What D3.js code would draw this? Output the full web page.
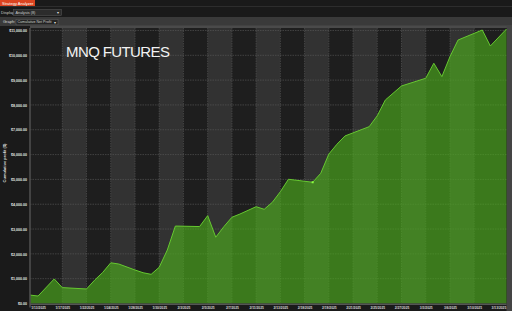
<!DOCTYPE html>
<html>
<head>
<meta charset="utf-8">
<script src="https://cdn.jsdelivr.net/npm/d3@7"></script>
<style>
  html, body { margin: 0; padding: 0; background: #1a1a1a; }
  svg { display: block; font-family: "Liberation Sans", Arial, sans-serif; }
</style>
</head>
<body>
<svg width="512" height="311"></svg>
<script>
'use strict';

// trade number of each vertex of the equity curve, and cumulative profit there
const trades = [0, 1, 3, 4, 7, 8, 9, 10, 11, 13, 14, 15, 16, 17, 18, 21, 22, 23, 24, 25, 26, 28, 29, 30,
    31, 32, 35, 36, 37, 38, 39, 42, 43, 44, 46, 49, 50, 51, 52, 53, 56, 57, 59];
const profit = [340, 300, 990, 640, 585, 940, 1250, 1640, 1590, 1350, 1240, 1175, 1460, 2155, 3120, 3100,
    3540, 2670, 3095, 3475, 3605, 3900, 3795, 4075, 4505, 5005, 4885, 5245, 6020, 6415, 6750, 7125, 7565,
    8200, 8765, 9075, 9680, 9140, 9945, 10615, 11020, 10375, 11060];
const selectedTrade = 35;

// date labels, one every third trade starting at trade 1
const tickTrades = [1, 4, 7, 10, 13, 16, 19, 22, 25, 28, 31, 34, 37, 40, 43, 46, 49, 52, 55, 58];
const tickLabels = ["1/13/2025", "1/17/2025", "1/22/2025", "1/24/2025", "1/28/2025", "1/30/2025",
    "2/3/2025", "2/5/2025", "2/7/2025", "2/11/2025", "2/13/2025", "2/18/2025", "2/19/2025", "2/21/2025",
    "2/25/2025", "2/27/2025", "3/3/2025", "3/6/2025", "3/10/2025", "3/13/2025"];
const yTicks = d3.range(0, 12000, 1000);

const run = () => {
    const svg = d3.select("svg");
    const left = 30, right = 506.5, top = 28, bottom = 303.5;

    const x = d3.scaleLinear().domain([0, 59]).range([left, right]);
    const y = d3.scaleLinear().domain([0, 11100]).range([bottom, top]);
    const data = trades.map((t, i) => ({ trade: t, value: profit[i] }));

    // header strip
    svg.append("rect").attr("width", 512).attr("height", 311).attr("fill", "#1a1a1a");
    svg.append("rect").attr("x", 0).attr("y", 0).attr("width", 35).attr("height", 6).attr("fill", "#dc4420");
    svg.append("text").attr("x", 2).attr("y", 4.6).attr("font-size", 4).attr("fill", "#fff")
        .text("Strategy Analyzer");
    svg.append("rect").attr("x", 0).attr("y", 6).attr("width", 512).attr("height", 0.8).attr("fill", "#333");

    svg.append("text").attr("x", 1).attr("y", 13.8).attr("font-size", 4).attr("fill", "#ccc").text("Display:");
    svg.append("rect").attr("x", 13.5).attr("y", 9.5).attr("width", 48).attr("height", 6)
        .attr("fill", "#2c2c2c").attr("stroke", "#5a5a5a").attr("stroke-width", 0.5);
    svg.append("text").attr("x", 15.5).attr("y", 13.8).attr("font-size", 3.8).attr("fill", "#ccc")
        .text("Analysis (8)");
    svg.append("text").attr("x", 57).attr("y", 14).attr("font-size", 4).attr("fill", "#ddd").text("▾");

    svg.append("rect").attr("x", 0).attr("y", 17).attr("width", 512).attr("height", 9).attr("fill", "#3a3a3a");
    svg.append("text").attr("x", 3).attr("y", 23.2).attr("font-size", 4).attr("fill", "#ddd").text("Graph:");
    svg.append("rect").attr("x", 16).attr("y", 19.3).attr("width", 42).attr("height", 5.6)
        .attr("fill", "#242424").attr("stroke", "#666").attr("stroke-width", 0.5);
    svg.append("text").attr("x", 17.5).attr("y", 23.3).attr("font-size", 3.6).attr("fill", "#ccc")
        .text("Cumulative Net Profit");
    svg.append("text").attr("x", 54).attr("y", 23.6).attr("font-size", 4).attr("fill", "#ddd").text("▾");

    // plot frame
    svg.append("rect").attr("x", left).attr("y", 25.5).attr("width", 512 - left).attr("height", top - 25.5)
        .attr("fill", "#4a4a4a");
    svg.append("rect").attr("x", right).attr("y", 25.5).attr("width", 512 - right).attr("height", 311 - 25.5)
        .attr("fill", "#444");

    // alternating bands between date ticks
    const edges = [0].concat(tickTrades.slice(1, -1), [59]);
    svg.append("g").selectAll("rect")
        .data(d3.pairs(edges))
        .join("rect")
        .attr("x", d => x(d[0]))
        .attr("y", top)
        .attr("width", d => x(d[1]) - x(d[0]))
        .attr("height", bottom - top)
        .attr("fill", (d, i) => i % 2 ? "#323232" : "#1e1e1e");

    const grid = svg.append("g")
        .attr("stroke", "#5a5a5a").attr("stroke-width", 0.6).attr("stroke-dasharray", "1.5,1");
    grid.selectAll("line.v")
        .data(tickTrades.slice(1, -1))
        .join("line")
        .attr("class", "v")
        .attr("x1", d => x(d)).attr("x2", d => x(d))
        .attr("y1", top).attr("y2", bottom);
    grid.selectAll("line.h")
        .data(yTicks.slice(1))
        .join("line")
        .attr("class", "h")
        .attr("x1", left).attr("x2", right)
        .attr("y1", d => y(d)).attr("y2", d => y(d));

    const area = d3.area()
        .x(d => x(d.trade))
        .y0(bottom)
        .y1(d => y(d.value));

    const line = d3.line()
        .x(d => x(d.trade))
        .y(d => y(d.value));

    svg.append("path")
        .datum(data)
        .attr("fill", "rgba(78,178,28,0.62)")
        .attr("d", area);

    svg.append("path")
        .datum(data)
        .attr("fill", "none")
        .attr("stroke", "#66c830")
        .attr("stroke-width", 1)
        .attr("d", line);

    const sel = data.find(d => d.trade === selectedTrade);
    svg.append("rect")
        .attr("x", x(sel.trade) - 1).attr("y", y(sel.value) - 1)
        .attr("width", 2).attr("height", 2)
        .attr("fill", "#8cff40");

    // y axis
    svg.append("rect").attr("x", left - 0.8).attr("y", top).attr("width", 1.6).attr("height", bottom - top + 4)
        .attr("fill", "#4e4e4e");
    const yAxis = d3.axisLeft(y)
        .tickValues(yTicks)
        .tickFormat(d3.format("$,.2f"))
        .tickSize(0)
        .tickPadding(3);
    const yg = svg.append("g")
        .attr("transform", `translate(${left},0)`)
        .call(yAxis);
    yg.select(".domain").remove();
    yg.selectAll("text")
        .attr("font-size", 3.6)
        .attr("font-weight", "bold")
        .attr("fill", "#e6e6e6");

    svg.append("text")
        .attr("transform", "translate(5.5,163) rotate(-90)")
        .attr("text-anchor", "middle")
        .attr("font-size", 4)
        .attr("font-weight", "bold")
        .attr("fill", "#ddd")
        .text("Cumulative profit ($)");

    // x axis
    svg.append("rect").attr("x", left).attr("y", bottom).attr("width", right - left).attr("height", 1.5)
        .attr("fill", "#555");
    const xAxis = d3.axisBottom(x)
        .tickValues(tickTrades)
        .tickFormat((d, i) => tickLabels[i])
        .tickSize(0)
        .tickPadding(1.2);
    const xg = svg.append("g")
        .attr("transform", `translate(0,${bottom + 1.5})`)
        .call(xAxis);
    xg.select(".domain").remove();
    xg.selectAll("text")
        .attr("font-size", 3.3)
        .attr("font-weight", "bold")
        .attr("fill", "#d8d8d8");

    svg.append("text")
        .attr("x", 66)
        .attr("y", 56.5)
        .attr("font-size", 15)
        .attr("fill", "#f2f2f2")
        .attr("textLength", 104)
        .text("MNQ FUTURES");
};

run();
</script>
</body>
</html>
